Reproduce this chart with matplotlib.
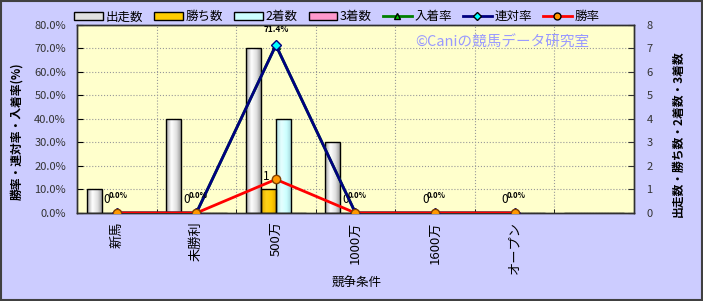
import numpy as np
import matplotlib
matplotlib.use('Agg')
import matplotlib.pyplot as plt
from matplotlib.patches import Patch, Rectangle
from matplotlib.lines import Line2D
from matplotlib.colors import LinearSegmentedColormap

plt.rcParams['font.family'] = ['Noto Sans CJK JP', 'DejaVu Sans']

# data
categories = ['新馬', '未勝利', '500万', '1000万', '1600万', 'オープン', '']
starts = [1, 4, 7, 3, 0, 0, 0]
wins = [0, 0, 1, 0, 0, 0, 0]
seconds = [0, 0, 4, 0, 0, 0, 0]
thirds = [0, 0, 0, 0, 0, 0, 0]
place_rate = [0.0, 0.0, 71.4, 0.0, 0.0, 0.0]
rentai_rate = [0.0, 0.0, 71.4, 0.0, 0.0, 0.0]
win_rate = [0.0, 0.0, 14.3, 0.0, 0.0, 0.0]

BG = '#CCCCFF'
PLOT_BG = '#FFFFCC'

fig = plt.figure(figsize=(7.03, 3.01), dpi=100, facecolor=BG)
ax = fig.add_axes([0.1095, 0.2924, 0.7923, 0.6246])
ax.set_facecolor(PLOT_BG)
ax2 = ax.twinx()
ax2.patch.set_visible(False)

x = np.arange(len(categories))
w = 0.19


def gradient_bars(bars, colors):
    # fake the cylinder shading of the original bars
    cmap = LinearSegmentedColormap.from_list('g', colors)
    grad = np.linspace(0, 1, 64).reshape(1, -1)
    for b in bars:
        h = b.get_height()
        if h <= 0:
            continue
        x0 = b.get_x()
        im = ax.imshow(grad, extent=[x0, x0 + b.get_width(), 0, h],
                       aspect='auto', cmap=cmap, zorder=2, interpolation='bicubic')
        im.set_clip_path(b)


series = [
    (starts, '出走数', ['#A0A0A0', '#FFFFFF', '#E0E0E0', '#909090']),
    (wins, '勝ち数', ['#E0A800', '#FFD21A', '#FFCC00', '#D9A000']),
    (seconds, '2着数', ['#A8DDE0', '#E6FFFF', '#CCFFFF', '#9ED0D4']),
    (thirds, '3着数', ['#D06090', '#FFB0D0', '#FF99CC', '#C05080']),
]
handles = []
for i, (vals, name, cols) in enumerate(series):
    bars = ax.bar(x - 1.5 * w + i * w, vals, w, facecolor='none',
                  edgecolor='black', linewidth=1.0, zorder=3)
    gradient_bars(bars, cols)
    handles.append(Patch(facecolor=cols[2], edgecolor='black', label=name))

# win count labels above the win bars
for i, v in enumerate(wins[:6]):
    ax.annotate(str(v), (x[i] - 0.5 * w, v), xytext=(-1.5, 5),
                textcoords='offset points', ha='center', va='bottom', fontsize=8.5)

xl = x[:6]
ax2.plot(xl, place_rate, color='#008000', lw=2, marker='^', ms=6,
         mfc='#008000', mec='#004000', zorder=4)
ax2.plot(xl, rentai_rate, color='#000080', lw=2, marker='D', ms=5,
         mfc='#00FFFF', mec='#000080', zorder=5)
ax2.plot(xl, win_rate, color='#FF0000', lw=2, marker='o', ms=6,
         mfc='#FF9900', mec='#804000', zorder=6)
handles += [
    Line2D([], [], color='#008000', lw=2, marker='^', ms=5, mfc='#00CC00', mec='black', label='入着率'),
    Line2D([], [], color='#000080', lw=2, marker='D', ms=4, mfc='#00FFFF', mec='black', label='連対率'),
    Line2D([], [], color='#FF0000', lw=2, marker='o', ms=5, mfc='#FF9900', mec='black', label='勝率'),
]

for i, v in enumerate(win_rate):
    if v == 0:
        ax2.annotate(f'{v:.1f}%', (xl[i], v), xytext=(1, 9), textcoords='offset points',
                     ha='center', va='bottom', fontsize=5.5, fontweight='bold', zorder=7)
ax2.annotate(f'{rentai_rate[2]:.1f}%', (xl[2], rentai_rate[2]), xytext=(0, 8),
             textcoords='offset points', ha='center', va='bottom', fontsize=6,
             fontweight='bold', zorder=7)

# axes setup
ax.set_xlim(-0.5, len(categories) - 0.5)
ax.set_ylim(0, 8)
ax.set_yticks(range(0, 9))
ax.yaxis.tick_right()
ax.set_xticks(x)
ax.set_xticklabels(categories, rotation=90, fontsize=9.5)
ax.set_xticks(x[:-1] + 0.5, minor=True)
ax.tick_params(axis='x', which='major', length=0, pad=6)
ax.tick_params(axis='x', which='minor', length=3, direction='in')
ax.tick_params(axis='y', labelsize=8, colors='#333333', labelcolor='#333333',
               direction='in', length=4, pad=9)
ax.grid(True, which='minor', axis='x', color='#999999', linestyle=':', lw=0.8)
ax.grid(True, which='major', axis='y', color='#999999', linestyle=':', lw=0.8)
ax.set_axisbelow(True)

ax2.set_ylim(0, 80)
ax2.set_yticks(range(0, 81, 10))
ax2.set_yticklabels([f'{t:.1f}%' for t in range(0, 81, 10)])
ax2.yaxis.tick_left()
ax2.tick_params(axis='y', labelsize=8, labelcolor='#333333', direction='in', length=4, pad=8)

for a in (ax, ax2):
    for s in a.spines.values():
        s.set_color('#303030')
        s.set_linewidth(1)

fig.legend(handles=handles, loc='center', bbox_to_anchor=(0.479, 0.944), ncol=7,
           frameon=False, fontsize=9, handlelength=2.3, handleheight=0.6,
           columnspacing=0.9, handletextpad=0.2)

fig.text(0.024, 0.565, '勝率・連対率・入着率(%)', rotation=90, ha='center', va='center',
         fontsize=8.5, fontweight='bold')
fig.text(0.965, 0.555, '出走数・勝ち数・2着数・3着数', rotation=90, ha='center', va='center',
         fontsize=8.5, fontweight='bold')
fig.text(0.508, 0.06, '競争条件', ha='center', va='center', fontsize=9)
fig.text(0.714, 0.857, '©Caniの競馬データ研究室', ha='center', va='center',
         fontsize=10.5, color='#9999FF')

fig.patches.append(Rectangle((0.001, 0.002), 0.997, 0.995, transform=fig.transFigure,
                             fill=False, edgecolor='#404040', lw=1.5))

fig.savefig('out.png', dpi=100, facecolor=BG)
